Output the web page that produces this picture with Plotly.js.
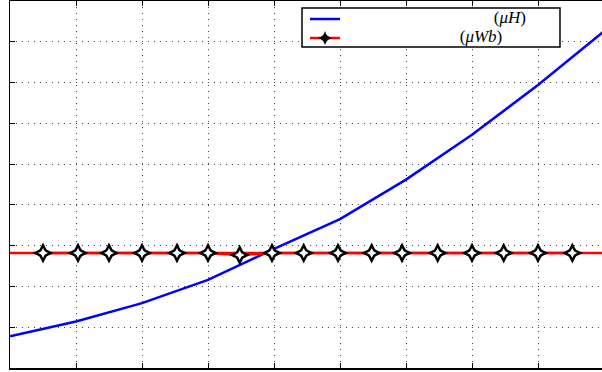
<!DOCTYPE html>
<html>
<head>
<meta charset="utf-8">
<script src="https://cdn.plot.ly/plotly-3.0.1.min.js"></script>
<style>
html,body{margin:0;padding:0;overflow:hidden;background:#fff;}
#chart{width:604px;height:372px;}
</style>
</head>
<body>
<div id="chart"></div>
<script>
// Data
const xBlue = [0, 1, 2, 3, 4, 5, 6, 7, 8, 9];
const yBlue = [0.78, 1.14, 1.59, 2.16, 2.92, 3.65, 4.62, 5.72, 6.94, 8.26];
const xRedLine = [0, 9];
const yRedLine = [2.82, 2.82];
const xRedMarks = [0.5, 1.03, 1.5, 2.0, 2.53, 3.0, 3.48, 3.97, 4.45, 4.97, 5.48, 5.94, 6.48, 7.0, 7.48, 8.0, 8.52];
const yRedMarks = [2.82, 2.82, 2.82, 2.82, 2.82, 2.82, 2.77, 2.82, 2.82, 2.82, 2.82, 2.82, 2.82, 2.82, 2.82, 2.82, 2.82];
const nameBlue = '(<i>μH</i>)';
const nameRed = '(<i>μWb</i>)';

const pad = n => '\u00a0'.repeat(n);
const big = s => '<span style="font-size:17px">' + s + '</span>';

// four-point star marker built from layered diamond markers
const starLayer = (symbol, size, color, extra) => Object.assign({
  x: xRedMarks, y: yRedMarks, mode: 'markers', showlegend: false, hoverinfo: 'skip',
  marker: {symbol: symbol, size: size, color: color, line: {width: 0}}
}, extra || {});

const traces = [
  {x: xBlue, y: yBlue, mode: 'lines', line: {color: '#0000ff', width: 2.5},
   name: big(pad(35) + nameBlue)},
  {x: xRedLine, y: yRedLine, mode: 'lines', line: {color: '#ff0000', width: 2.5},
   showlegend: false, hoverinfo: 'skip'},
  starLayer('star-diamond', 10, '#000', {mode: 'lines+markers', showlegend: true,
    line: {color: '#ff0000', width: 2.5}, name: big(pad(27) + nameRed)}),
  starLayer('diamond-tall', 15, '#000'),
  starLayer('diamond-wide', 15, '#000'),
  starLayer('diamond-tall', 7, '#fff'),
  starLayer('diamond-wide', 7, '#fff')
];

const axisCommon = {
  showline: true, linecolor: '#000', linewidth: 1.5,
  ticks: 'inside', ticklen: 5, tickcolor: '#000', tickwidth: 1,
  showticklabels: false, zeroline: false,
  showgrid: true, gridcolor: '#444', gridwidth: 1, griddash: '1px,5px'
};

const layout = {
  width: 604, height: 372,
  margin: {l: 10, r: 0, t: 1, b: 4, pad: 0},
  paper_bgcolor: '#fff', plot_bgcolor: '#fff',
  font: {family: '"Liberation Serif", serif', size: 14, color: '#000'},
  xaxis: Object.assign({}, axisCommon, {range: [0, 9], dtick: 1, tick0: 0, mirror: 'ticks'}),
  yaxis: Object.assign({}, axisCommon, {range: [0, 9], dtick: 1, tick0: 0, mirror: false}),
  shapes: [{
    type: 'rect', xref: 'paper', yref: 'paper', layer: 'above',
    x0: 0.4916, x1: 0.9259, y0: 0.8747, y1: 0.981,
    line: {color: '#000', width: 1.5}, fillcolor: '#fff'
  }],
  showlegend: true,
  legend: {
    x: 0.4966, y: 0.9905, xanchor: 'left', yanchor: 'top',
    bgcolor: 'rgba(0,0,0,0)', borderwidth: 0,
    font: {family: '"Liberation Serif", serif', size: 11, color: '#000'},
    tracegroupgap: 0
  }
};

Plotly.newPlot('chart', traces, layout, {staticPlot: true, displayModeBar: false});
</script>
</body>
</html>
